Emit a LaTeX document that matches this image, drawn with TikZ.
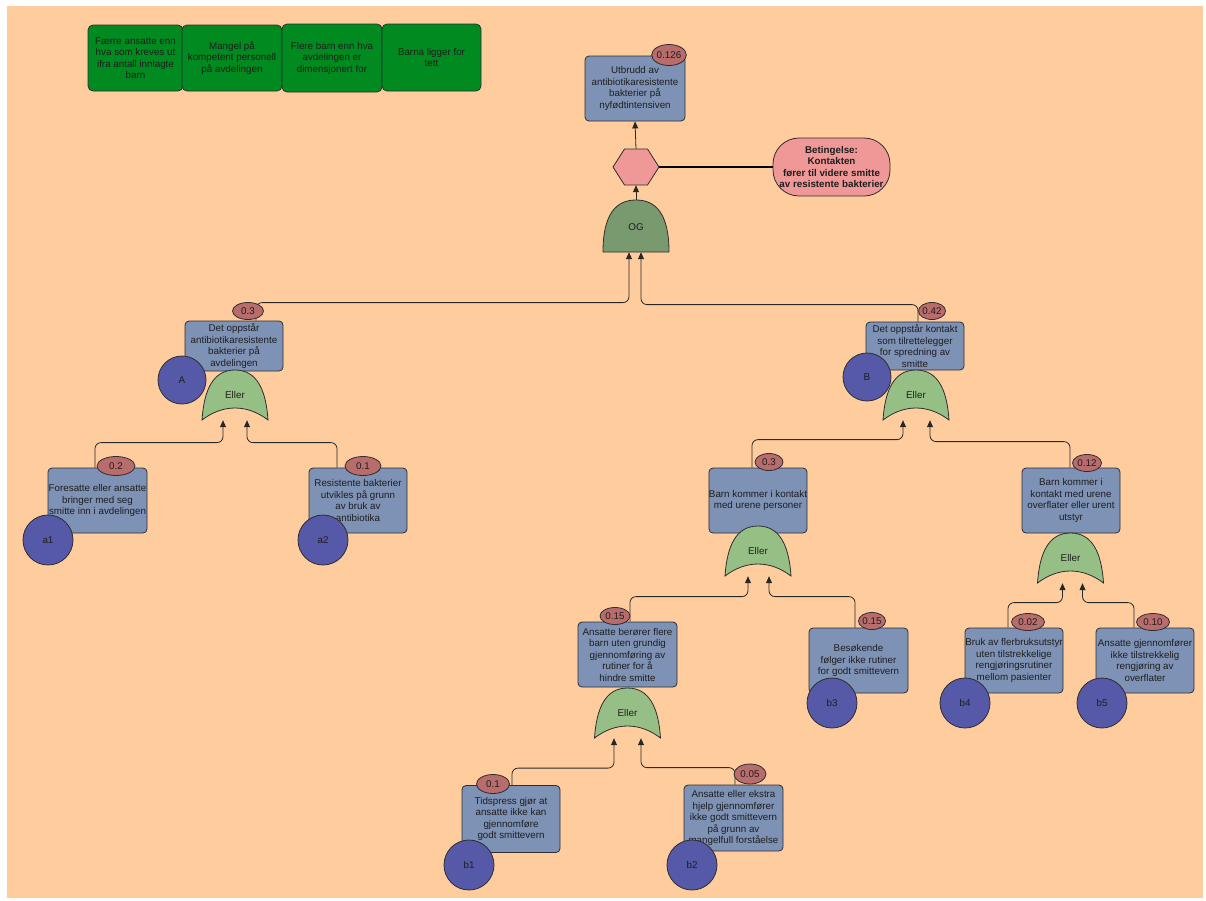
\documentclass[tikz,border=0pt]{standalone}
\usepackage{fontspec}
\setmainfont{Liberation Sans}
\usetikzlibrary{arrows.meta,calc,shapes.geometric}
\definecolor{peach}{RGB}{255,205,157}
\definecolor{boxblue}{RGB}{126,146,182}
\definecolor{boxline}{RGB}{45,45,50}
\definecolor{probred}{RGB}{185,108,108}
\definecolor{circblue}{RGB}{86,88,168}
\definecolor{orgreen}{RGB}{150,191,134}
\definecolor{andgreen}{RGB}{121,153,110}
\definecolor{pinkc}{RGB}{240,152,152}
\definecolor{dkgreen}{RGB}{0,138,32}
\definecolor{txt}{RGB}{30,30,30}
\definecolor{edgecol}{RGB}{40,40,40}
\newcommand{\OrGate}[4]{%
  \begin{scope}[shift={(#2,#3)}]
    \draw[orgate] (-33,25) .. controls (-31,-5) and (-22,-25) .. (0,-25)
      .. controls (22,-25) and (31,-5) .. (33,25)
      .. controls (12,9) and (-12,9) .. cycle;
  \end{scope}
  \node[gatebox] (#1) at (#2,#3) {#4};}
\begin{document}
\begin{tikzpicture}[x=1pt,y=-1pt,
  font=\fontsize{9.8}{11.5}\selectfont,
  every node/.style={text=txt},
  box/.style={draw=boxline, fill=boxblue, rounded corners=4pt, minimum width=98pt,
    minimum height=65pt, inner sep=0pt, align=center, line width=0.8pt},
  gbox/.style={draw=boxline, fill=dkgreen, rounded corners=5pt, minimum width=100pt,
    minimum height=66pt, inner sep=0pt, align=center, line width=0.8pt},
  prob/.style={ellipse, draw=boxline, fill=probred, minimum width=31pt,
    minimum height=18pt, inner sep=0pt, line width=0.8pt},
  basic/.style={circle, draw=boxline, fill=circblue, minimum size=50pt, inner sep=0pt,
    line width=0.8pt},
  gatebox/.style={minimum width=66pt, minimum height=50pt, inner sep=0pt},
  orgate/.style={draw=boxline, fill=orgreen, line width=0.8pt},
  andgate/.style={draw=boxline, fill=andgreen, line width=0.8pt},
  conn/.style={draw=edgecol, line width=0.8pt, rounded corners=6pt,
    -{Triangle[length=7pt,width=6pt]}},
  plain/.style={draw=black, line width=1.3pt}]
\useasboundingbox (0,0) rectangle (1206,900);
\fill[white] (0,0) rectangle (1206,900);
\fill[peach] (7,6) rectangle (1203,898);

% ---- green boxes
\node[gbox, minimum width=95pt] (g1) at (135.5,58) {Færre ansatte enn\\hva som kreves ut\\ifra antall innlagte\\barn};
\node[gbox] (g2) at (232,58) {Mangel på\\kompetent personell\\på avdelingen};
\node[gbox, minimum height=68pt] (g3) at (332,58) {Flere barn enn hva\\avdelingen er\\dimensjonert for};
\node[gbox, minimum width=99pt, minimum height=67pt] (g4) at (431.5,57.5) {Barna ligger for\\tett};

% ---- invisible anchor nodes for gates
\node[minimum width=46pt, minimum height=36pt, inner sep=0pt] (hx) at (636,167) {};
\node[minimum width=66pt, minimum height=52pt, inner sep=0pt] (gOGa) at (636,226) {};

% ---- boxes
\node[box, minimum width=100pt] (tE) at (635,88.5) {Utbrudd av\\antibiotikaresistente\\bakterier på\\nyfødtintensiven};
\node[box, minimum height=50pt] (bA) at (234,346) {Det oppstår\\antibiotikaresistente\\bakterier på\\avdelingen};
\node[box, minimum height=48pt] (bB) at (915,346) {Det oppstår kontakt\\som tilrettelegger\\for spredning av\\smitte};
\node[box, minimum width=99pt] (ba1) at (97.5,500.5) {Foresatte eller ansatte\\bringer med seg\\smitte inn i avdelingen};
\node[box] (ba2) at (358,500.5) {Resistente bakterier\\utvikles på grunn\\av bruk av\\antibiotika};
\node[box] (bB1) at (758,500.5) {Barn kommer i kontakt\\med urene personer};
\node[box] (bB2) at (1071,500.5) {Barn kommer i\\kontakt med urene\\overflater eller urent\\utstyr};
\node[box, minimum width=99pt] (bb12) at (627.5,654.5) {Ansatte berører flere\\barn uten grundig\\gjennomføring av\\rutiner for å\\hindre smitte};
\node[box, minimum width=99pt] (bb3) at (858.5,660.5) {Besøkende\\følger ikke rutiner\\for godt smittevern};
\node[box] (bb4) at (1014,660.5) {Bruk av flerbruksutstyr\\uten tilstrekkelige\\rengjøringsrutiner\\mellom pasienter};
\node[box] (bb5) at (1145,660.5) {Ansatte gjennomfører\\ikke tilstrekkelig\\rengjøring av\\overflater};
\node[box, minimum height=67pt] (bb1) at (511,819) {Tidspress gjør at\\ansatte ikke kan\\gjennomføre\\godt smittevern};
\node[box, minimum width=99pt, minimum height=66pt] (bb2) at (733.5,818) {Ansatte eller ekstra\\hjelp gjennomfører\\ikke godt smittevern\\på grunn av\\mangelfull forståelse};

% ---- condition
\node[rectangle, rounded corners=26pt, draw=boxline, fill=pinkc, minimum width=117pt, minimum height=58pt,
  inner sep=0pt, align=center, font=\fontsize{9.8}{11.5}\selectfont\bfseries, line width=0.8pt]
  (cE) at (831.5,167) {Betingelse:\\Kontakten\\fører til videre smitte\\av resistente bakterier};

% ---- connectors (drawn under gates and probabilities)
\draw[conn] (hx.north) -- (tE.south);
\draw[conn] (gOGa.north) -- (hx.south);
\draw[plain] (hx.east) -- (cE.west);
\draw[conn] ([xshift=22pt]bA.north) -- ++(0,-18) -| ([xshift=-7pt]gOGa.south);
\draw[conn] ([xshift=3pt]bB.north) -- ++(0,-17) -| ([xshift=5pt]gOGa.south);

% ---- gates
\begin{scope}[shift={(636,167)}]
  \draw[boxline, fill=pinkc, line width=0.8pt] (-23,0) -- (-11.5,-18) -- (11.5,-18) -- (23,0) -- (11.5,18) -- (-11.5,18) -- cycle;
\end{scope}
\begin{scope}[shift={(636,226)}]
  \draw[andgate] (-33,26) .. controls (-33,-12) and (-20,-26) .. (0,-26)
    .. controls (20,-26) and (33,-12) .. (33,26) -- cycle;
\end{scope}
\node[inner sep=0pt] (gOG) at (636,227) {OG};

\OrGate{gA}{235}{395}{Eller}
\OrGate{gB}{916}{395}{Eller}
\OrGate{gB1}{758}{551}{Eller}
\OrGate{gB2}{1070.5}{558}{Eller}
\OrGate{gb12}{627.5}{713}{Eller}

% ---- connectors into OR gates
\draw[conn] ([xshift=-2.5pt]ba1.north) -- ++(0,-25) -| ([xshift=-12pt]gA.south);
\draw[conn] ([xshift=-21pt]ba2.north) -- ++(0,-25) -| ([xshift=12pt]gA.south);
\draw[conn] ([xshift=-6pt]bB1.north) -- ++(0,-28) -| ([xshift=-13pt]gB.south);
\draw[conn] ([xshift=-1pt]bB2.north) -- ++(0,-26) -| ([xshift=14pt]gB.south);
\draw[conn] ([xshift=2.5pt]bb12.north) -- ++(0,-25) -| ([xshift=-10pt]gB1.south);
\draw[conn] ([xshift=-3.5pt]bb3.north) -- ++(0,-31) -| ([xshift=11pt]gB1.south);
\draw[conn] ([xshift=-6pt]bb4.north) -- ++(0,-25) -| ([xshift=-8pt]gB2.south);
\draw[conn] ([xshift=-11pt]bb5.north) -- ++(0,-25) -| ([xshift=12pt]gB2.south);
\draw[conn] ([xshift=1pt]bb1.north) -- ++(0,-17) -| ([xshift=-13.5pt]gb12.south);
\draw[conn] ([xshift=1.5pt]bb2.north) -- ++(0,-17) -| ([xshift=13.5pt]gb12.south);

% ---- probabilities
\node[prob, minimum width=33pt, minimum height=21pt] (p0) at (669,55) {0.126};
\node[prob, minimum height=17pt] (pA) at (248,311) {0.3};
\node[prob, minimum width=27pt, minimum height=17pt] (pB) at (932,311) {0.42};
\node[prob, minimum width=38pt, minimum height=19pt] (pa1) at (116,466) {0.2};
\node[prob, minimum width=36pt, minimum height=19pt] (pa2) at (363,466) {0.1};
\node[prob, minimum width=28pt, minimum height=17pt] (pB1) at (769,462) {0.3};
\node[prob, minimum width=29pt, minimum height=17pt] (pB2) at (1087,463) {0.12};
\node[prob, minimum width=30pt, minimum height=17pt] (pb12) at (615,616) {0.15};
\node[prob, minimum width=27pt, minimum height=17pt] (pb3) at (872,621) {0.15};
\node[prob, minimum width=33pt, minimum height=17pt] (pb4) at (1028,622) {0.02};
\node[prob, minimum width=33pt, minimum height=17pt] (pb5) at (1153,622) {0.10};
\node[prob, minimum width=33pt, minimum height=19pt] (pb1) at (493,784) {0.1};
\node[prob, minimum width=32pt, minimum height=20pt] (pb2) at (750,774) {0.05};

% ---- basic events (circles)
\node[basic, minimum size=48pt] (cA) at (182,380) {A};
\node[basic, minimum size=48pt] (cB) at (867,377) {B};
\node[basic] (ca1) at (48,540) {a1};
\node[basic] (ca2) at (323,540) {a2};
\node[basic] (cb3) at (832,703) {b3};
\node[basic] (cb4) at (965,703) {b4};
\node[basic] (cb5) at (1102,703) {b5};
\node[basic] (cb1) at (469,865) {b1};
\node[basic] (cb2) at (692,865) {b2};
\end{tikzpicture}
\end{document}
